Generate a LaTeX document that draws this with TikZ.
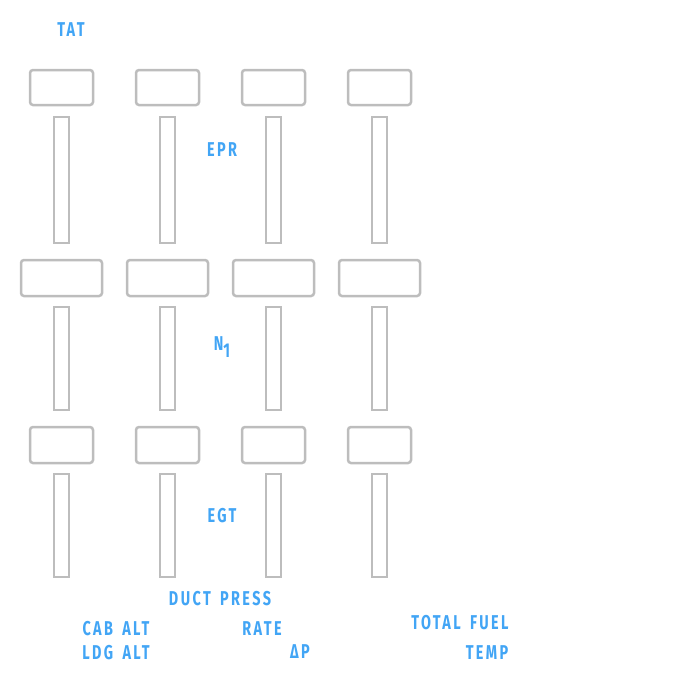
\documentclass[tikz,border=0pt]{standalone}
\usepackage{fontspec}
\newfontfamily\lblfont{Fira Sans}[FakeStretch=0.72,LetterSpace=12,WordSpace=1.6,UprightFont=* Bold]
\definecolor{lblblue}{HTML}{42A5F5}
\definecolor{gaugegray}{HTML}{BDBDBD}
\begin{document}
\begin{tikzpicture}[x=1pt,y=-1pt,
  lbl/.style={text=lblblue,font=\lblfont\fontsize{20}{24}\selectfont,inner sep=0pt,anchor=center},
  readout/.style={draw=gaugegray,line width=2.5pt,rounded corners=3pt,fill=white},
  bargauge/.style={draw=gaugegray,line width=1.8pt,fill=white}]
\useasboundingbox (0,0) rectangle (672,680);
\foreach \i/\c in {0/a,1/b,2/c,3/d}{
  \pgfmathsetmacro{\xo}{\i*106}
  \draw[readout] (30+\xo,70) rectangle (93+\xo,105);
  \draw[bargauge] (54+\xo,117) rectangle (69+\xo,243);
  \draw[readout] (21+\xo,260) rectangle (102+\xo,296);
  \draw[bargauge] (54+\xo,307) rectangle (69+\xo,410);
  \draw[readout] (30+\xo,427) rectangle (93+\xo,463);
  \draw[bargauge] (54+\xo,474) rectangle (69+\xo,577);
}
\node[lbl] (tat) at (71,30) {TAT};
\node[lbl] (epr) at (222,150) {EPR};
\node[lbl] (n1) at (222,347) {N\raisebox{-7pt}{1}};
\node[lbl] (egt) at (222,516) {EGT};
\node[lbl] (duct) at (220,599) {DUCT PRESS};
\node[lbl] (cab) at (116,629) {CAB ALT};
\node[lbl] (ldg) at (116,653) {LDG ALT};
\node[lbl] (rate) at (262,629) {RATE};
\node[lbl] (dp) at (300,652) {ΔP};
\node[lbl] (tfuel) at (460,623) {TOTAL FUEL};
\node[lbl] (temp) at (487,653) {TEMP};
\end{tikzpicture}
\end{document}
